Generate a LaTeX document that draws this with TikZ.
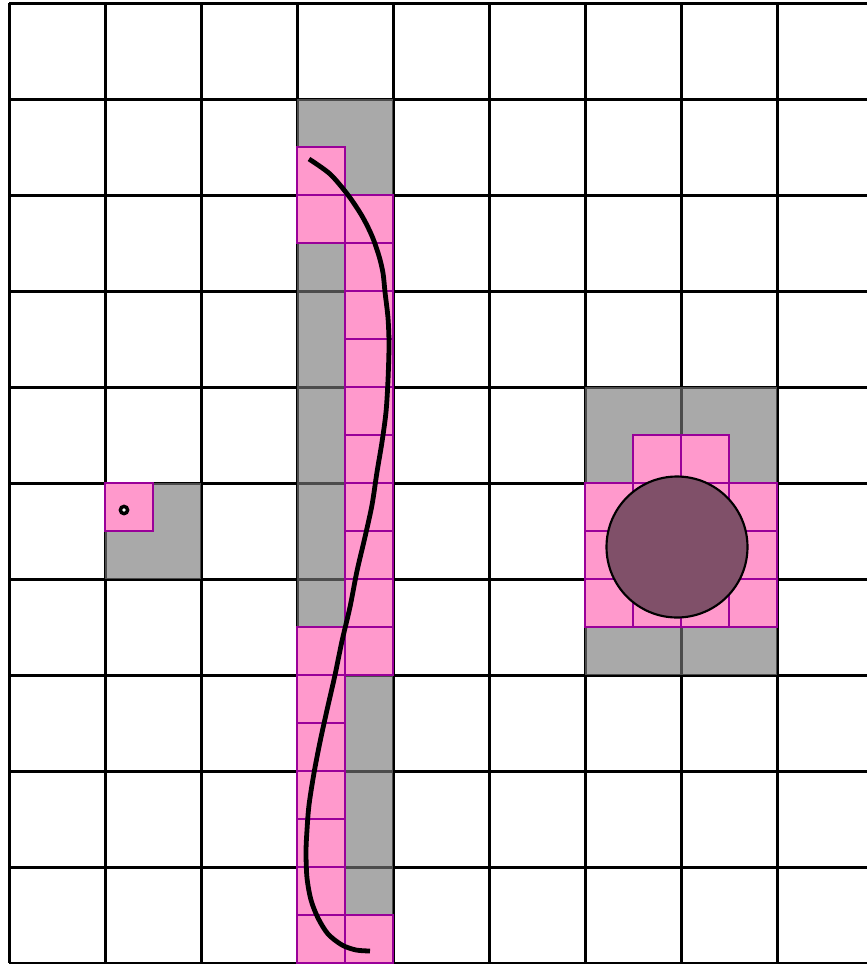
\documentclass[tikz,border=0pt]{standalone}
\usetikzlibrary{calc}
\definecolor{pinkc}{RGB}{255,153,204}
\definecolor{purpc}{RGB}{153,0,153}
\definecolor{grayc}{RGB}{121,121,121}
\definecolor{circc}{RGB}{128,80,105}
\tikzset{
  gridline/.style={black,line width=2.25pt},
  graycell/.style={fill=grayc,fill opacity=0.635,draw=none},
  pinkcell/.style={fill=pinkc,draw=purpc,line width=1.6pt},
  obstacle/.style={fill=circc,draw=black,line width=1.6pt},
  route/.style={black,line width=3.6pt,line join=round},
}
\begin{document}
\begin{tikzpicture}[x=0.75pt,y=-0.75pt]
\useasboundingbox (0,0) rectangle (867,964);
\fill[white] (0,0) rectangle (867,964);
% grid
\foreach \x in {9,105,...,777} \draw[gridline] (\x,3) -- (\x,963);
\foreach \y in {3,99,...,963} \draw[gridline] (9,\y) -- (867,\y);
% gray cells
\foreach \y in {99,195,...,867} \fill[graycell] (297,\y) rectangle ++(96,96);
\fill[graycell] (105,483) rectangle ++(96,96);
\foreach \x in {585,681} \foreach \y in {387,483,579} \fill[graycell] (\x,\y) rectangle ++(96,96);
% pink cells
\foreach \x/\y in {297/147,297/195,345/195,345/243,345/291,345/339,345/387,345/435,345/483,345/531,345/579,297/627,345/627,297/675,297/723,297/771,297/819,297/867,297/915,345/915,105/483,633/435,681/435}
  \draw[pinkcell] (\x,\y) rectangle ++(48,48);
\foreach \x in {585,633,681,729} \foreach \y in {483,531,579}
  \draw[pinkcell] (\x,\y) rectangle ++(48,48);
% obstacle
\draw[obstacle] (677,547) circle (70.5);
% marker
\draw[black,line width=2.6pt,fill=white] (124,510) circle (3.6);
% route
\draw[route] plot[smooth,tension=0.5] coordinates {(309,159) (330,174) (348,195) (362,216) (372,236) (379,256) (383,273) (385,292) (388,318) (389,345) (388,380) (386,412) (382,442) (377,472) (372,505) (365,537) (357,571) (350,607) (342,641) (335,675) (327,710) (320,742) (314,773) (309,805) (307,830) (306,852) (307,878) (311,900) (318,918) (328,934) (342,945) (356,950) (370,951)};
\end{tikzpicture}
\end{document}
